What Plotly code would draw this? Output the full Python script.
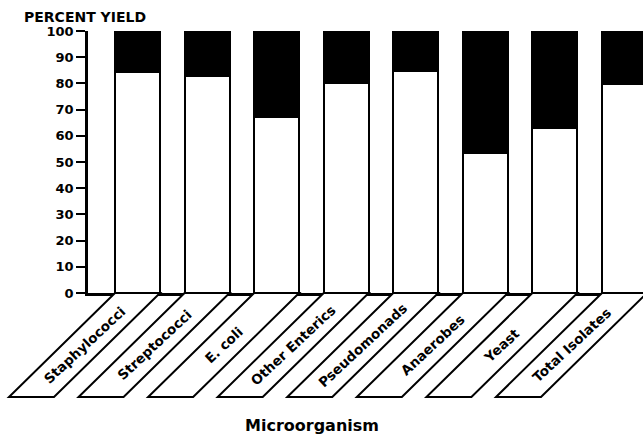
import plotly.graph_objects as go

categories = ["Staphylococci", "Streptococci", "E. coli", "Other Enterics",
              "Pseudomonads", "Anaerobes", "Yeast", "Total Isolates"]
white_values = [84.5, 83.0, 67.2, 80.0, 84.7, 53.5, 62.8, 79.6]
total_values = [100, 100, 100, 100, 100, 100, 100, 100]
black_values = [t - w for t, w in zip(total_values, white_values)]
y_ticks = list(range(0, 101, 10))

W, H = 643, 435
ML, MR, MT, MB = 88, 0, 31, 142
PW = W - ML - MR
PH = H - MT - MB
X0, X1 = -0.7115, 7.266
BAR_W = 0.647

fig = go.Figure()
fig.add_trace(go.Bar(x=list(range(len(categories))), y=white_values, width=BAR_W,
                     marker=dict(color="white", line=dict(color="black", width=2)),
                     showlegend=False, hoverinfo="skip"))
fig.add_trace(go.Bar(x=list(range(len(categories))), y=black_values, width=BAR_W,
                     marker=dict(color="black", line=dict(color="black", width=2)),
                     showlegend=False, hoverinfo="skip"))

def to_paper(c):
    return (c - X0) / (X1 - X0)

dxp = 106 / PW
dyp = 104 / PH
shapes = []
annotations = []
for i, name in enumerate(categories):
    xl = to_paper(i - BAR_W / 2)
    xr = to_paper(i + BAR_W / 2)
    path = (f"M {xl},0 L {xr},0 L {xr - dxp},{-dyp} L {xl - dxp},{-dyp} Z")
    shapes.append(dict(type="path", path=path, xref="paper", yref="paper",
                       line=dict(color="black", width=2), fillcolor="white", layer="above"))
    cx = to_paper(i) - dxp / 2
    cy = -dyp / 2
    annotations.append(dict(x=cx, y=cy, xref="paper", yref="paper", text=name,
                            showarrow=False, textangle=-43, xanchor="center", yanchor="middle",
                            font=dict(family="DejaVu Sans", size=13.5, color="black", weight="bold")))

annotations.append(dict(x=(22 - ML) / PW, y=(H - MB - 17) / PH, xref="paper", yref="paper",
                        text="PERCENT YIELD", showarrow=False, xanchor="left", yanchor="middle",
                        font=dict(family="DejaVu Sans", size=14, color="black", weight="bold")))
annotations.append(dict(x=(312 - ML) / PW, y=((H - MB) - 425) / PH, xref="paper", yref="paper",
                        text="Microorganism", showarrow=False, xanchor="center", yanchor="middle",
                        font=dict(family="DejaVu Sans", size=16, color="black", weight="bold")))

fig.update_layout(
    width=W, height=H, barmode="stack",
    margin=dict(l=ML, r=MR, t=MT, b=MB, pad=0),
    paper_bgcolor="white", plot_bgcolor="white",
    shapes=shapes, annotations=annotations,
    xaxis=dict(range=[X0, X1], showticklabels=False, ticks="", showgrid=False,
               zeroline=False, showline=True, linecolor="black", linewidth=2.5),
    yaxis=dict(range=[0, 100], tickvals=y_ticks, ticks="outside", ticklen=9, tickwidth=2,
               tickcolor="black", showgrid=False, zeroline=False, showline=True,
               linecolor="black", linewidth=2.5,
               tickfont=dict(family="DejaVu Sans", size=13, color="black", weight="bold")),
)
fig.write_html("out.html", config={"displayModeBar": False},
               post_script="document.body.style.margin='0px';document.body.style.padding='0px';")
